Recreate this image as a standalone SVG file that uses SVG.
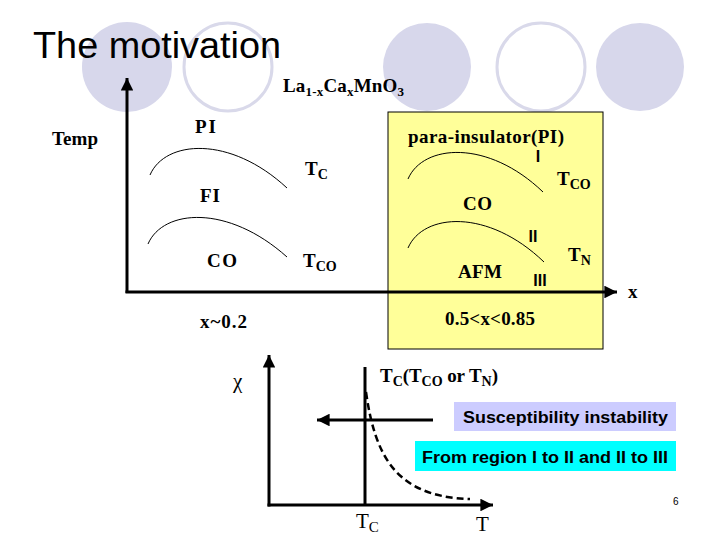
<svg xmlns="http://www.w3.org/2000/svg" width="720" height="540" viewBox="0 0 720 540">
<style>
.bg{fill:#ffffff}
.dot{fill:#D7D7EB}
.ring{fill:none;stroke:#D9D9EA;stroke-width:3}
.t{font-family:"Liberation Serif","Times New Roman",serif;font-weight:bold;font-size:19px;fill:#000}
.tr{font-family:"Liberation Serif","Times New Roman",serif;font-size:21px;fill:#000}
.s{font-family:"Liberation Sans",Arial,sans-serif;fill:#000}
.rn{font-family:"Liberation Sans",Arial,sans-serif;font-size:16px;font-weight:bold;fill:#000}
.sb{font-family:"Liberation Sans",Arial,sans-serif;font-weight:bold;font-size:16px;fill:#000}
.curve{fill:none;stroke:#000;stroke-width:1}
.axis{fill:none;stroke:#000;stroke-width:3}
</style>
<defs>
<marker id="ah" viewBox="0 0 10 10" refX="10" refY="5" markerWidth="4.2" markerHeight="4.2" orient="auto" markerUnits="strokeWidth">
<path d="M0,0 L10,5 L0,10 z" fill="#000"/>
</marker>
</defs>
<rect class="bg" x="0" y="0" width="720" height="540"/>

<g id="decor">
<ellipse class="dot" cx="127" cy="67" rx="45" ry="45"/>
<ellipse class="ring" cx="228" cy="67" rx="44" ry="44"/>
<ellipse class="dot" cx="427" cy="67" rx="44" ry="44"/>
<ellipse class="ring" cx="541" cy="67" rx="44" ry="44"/>
<ellipse class="dot" cx="640" cy="67" rx="44" ry="44"/>
</g>

<g id="title">
<text class="s" x="33" y="58" font-size="36" textLength="248" lengthAdjust="spacingAndGlyphs">The motivation</text>
</g>

<g id="formula">
<text class="t" x="283" y="92" font-size="18" textLength="121">La<tspan font-size="13" dy="4">1-x</tspan><tspan dy="-4">Ca</tspan><tspan font-size="13" dy="4">x</tspan><tspan dy="-4">MnO</tspan><tspan font-size="13" dy="4">3</tspan></text>
</g>

<g id="region-box">
<rect x="388" y="112" width="215" height="237" fill="#FFFF99" stroke="#000" stroke-width="1"/>
</g>

<g id="connectors">
<line class="axis" x1="127" y1="293" x2="127" y2="78" marker-end="url(#ah)"/>
<line class="axis" x1="125.5" y1="292" x2="617" y2="292" marker-end="url(#ah)"/>
<path class="curve" d="M150,175 C165,140 230,135 287,188"/>
<path class="curve" d="M148,244 C163,209 228,204 287,257"/>
<path class="curve" d="M408,179 C423,144 488,139 543,192"/>
<path class="curve" d="M408,248 C423,213 488,208 544,262"/>
<line class="axis" x1="269" y1="506.5" x2="269" y2="355" marker-end="url(#ah)"/>
<line class="axis" x1="267.5" y1="505" x2="493" y2="505" marker-end="url(#ah)"/>
<line class="axis" x1="365" y1="367" x2="365" y2="505"/>
<line class="axis" x1="433" y1="420" x2="317" y2="420" marker-end="url(#ah)"/>
<path d="M366,392 C375,455 395,497 470,499" fill="none" stroke="#000" stroke-width="2.5" stroke-dasharray="7,4"/>
</g>

<g id="left-labels">
<text class="t" x="52" y="145" textLength="46">Temp</text>
<text class="t" x="195" y="133" textLength="21">PI</text>
<text class="t" x="305" y="175">T<tspan font-size="14" dy="4">C</tspan></text>
<text class="t" x="200" y="202" textLength="20">FI</text>
<text class="t" x="207" y="267" textLength="30">CO</text>
<text class="t" x="303" y="267">T<tspan font-size="14" dy="4">CO</tspan></text>
<text class="t" x="200" y="328" textLength="47">x~0.2</text>
</g>

<g id="right-labels">
<text class="t" x="408" y="143" textLength="156">para-insulator(PI)</text>
<text class="rn" x="538" y="162" text-anchor="middle">I</text>
<text class="t" x="557" y="185">T<tspan font-size="14" dy="4">CO</tspan></text>
<text class="t" x="463" y="210" textLength="29">CO</text>
<text class="rn" x="533" y="242" text-anchor="middle">II</text>
<text class="t" x="568" y="261">T<tspan font-size="14" dy="4">N</tspan></text>
<text class="t" x="458" y="278" textLength="44">AFM</text>
<text class="rn" x="540" y="286" text-anchor="middle">III</text>
<text class="t" x="628" y="298">x</text>
<text class="t" x="445" y="325" textLength="90">0.5&lt;x&lt;0.85</text>
</g>

<g id="chi-labels">
<text class="tr" x="233" y="388" font-size="20">χ</text>
<text class="t" x="380" y="382" textLength="118">T<tspan font-size="14" dy="4">C</tspan><tspan dy="-4">(T</tspan><tspan font-size="14" dy="4">CO</tspan><tspan dy="-4"> or T</tspan><tspan font-size="14" dy="4">N</tspan><tspan dy="-4">)</tspan></text>
<text class="tr" x="356" y="528">T<tspan font-size="15" dy="4">C</tspan></text>
<text class="tr" x="476" y="531">T</text>
</g>

<g id="susceptibility">
<rect x="454" y="402" width="222" height="29" fill="#CCCCFF"/>
<text class="sb" x="463" y="423" textLength="205" lengthAdjust="spacingAndGlyphs">Susceptibility instability</text>
</g>

<g id="regions-note">
<rect x="415" y="441" width="261" height="30" fill="#00FFFF"/>
<text class="sb" x="422" y="463" textLength="246" lengthAdjust="spacingAndGlyphs">From region I to II and II to III</text>
</g>

<g id="page">
<text class="s" x="673" y="505" font-size="10">6</text>
</g>
</svg>
